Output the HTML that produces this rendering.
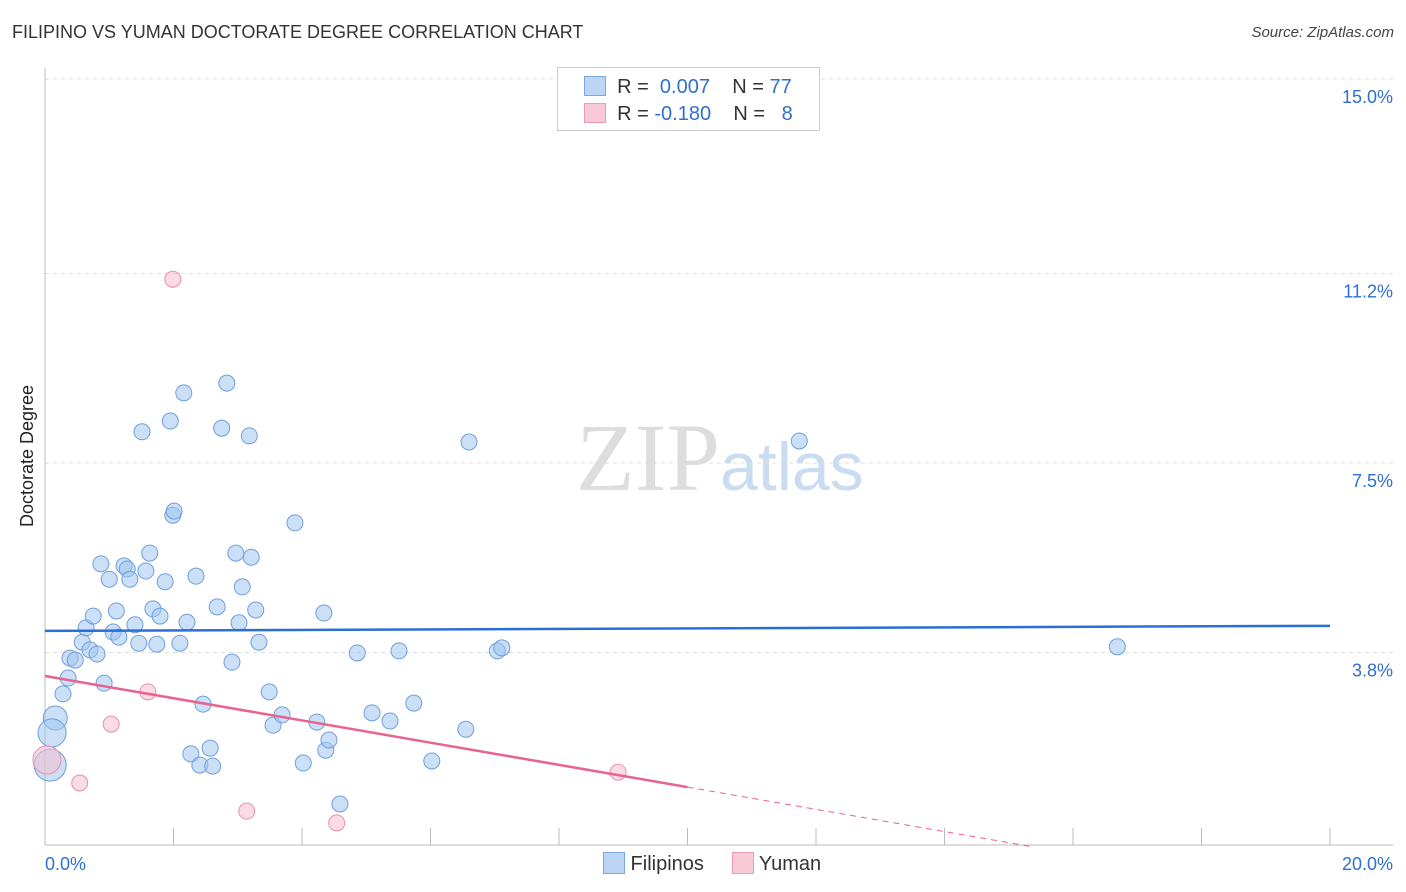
<!DOCTYPE html>
<html><head><meta charset="utf-8">
<style>
body{margin:0;width:1406px;height:892px;background:#fff;font-family:"Liberation Sans",sans-serif;overflow:hidden;position:relative}
.t{position:absolute}
</style></head><body>
<div class="t" style="left:12px;top:22px;font-size:18px;color:#333">FILIPINO VS YUMAN DOCTORATE DEGREE CORRELATION CHART</div>
<div class="t" style="right:12px;top:24px;font-size:15px;color:#444;font-style:italic">Source: ZipAtlas.com</div>
<svg id="chart" width="1406" height="892" style="position:absolute;left:0;top:0">
<text x="720" y="490" font-family="Liberation Serif,serif" font-size="96" fill="#ddd" text-anchor="end">ZIP</text>
<text x="720" y="490" font-family="Liberation Sans,sans-serif" font-size="68" fill="#c9dcf2">atlas</text>
<text transform="translate(33,456) rotate(-90)" font-size="18" fill="#222" text-anchor="middle">Doctorate Degree</text>
</svg>
<div class="t" style="left:557px;top:67px;width:261px;height:62px;border:1px solid #ccc;background:#fff;font-size:20px">
<div style="position:absolute;left:26px;top:8px;white-space:pre"><span style="display:inline-block;width:20px;height:18px;background:#bcd5f5;border:1px solid #7aa8e0;vertical-align:-3px"></span>  <span style="color:#333">R = </span><span style="color:#2f6fd0"> 0.007</span><span style="color:#333">    N = </span><span style="color:#2f6fd0">77</span></div>
<div style="position:absolute;left:26px;top:35px;white-space:pre"><span style="display:inline-block;width:20px;height:18px;background:#f9c9d8;border:1px solid #eb9ab3;vertical-align:-3px"></span>  <span style="color:#333">R = </span><span style="color:#2f6fd0">-0.180</span><span style="color:#333">    N = </span><span style="color:#2f6fd0">  8</span></div>
</div>
<div class="t" style="left:603px;top:852px;font-size:20px;color:#333;white-space:pre"><span><span style="display:inline-block;width:20px;height:20px;background:#bcd5f5;border:1px solid #7aa8e0;vertical-align:-4px"></span> Filipinos</span>     <span><span style="display:inline-block;width:20px;height:20px;background:#f9c9d8;border:1px solid #eb9ab3;vertical-align:-4px"></span> Yuman</span></div>
<script>
const blueX=[.16,.11,.08,.28,.39,.36,.47,.58,.64,.70,.75,.81,.87,.92,1.00,1.06,1.11,1.15,1.23,1.28,1.32,1.40,1.46,1.51,1.57,1.63,1.68,1.74,1.79,1.87,1.95,1.99,2.01,2.10,2.16,2.21,2.27,2.35,2.41,2.46,2.57,2.61,2.68,2.75,2.83,2.91,2.97,3.02,3.07,3.18,3.21,3.28,3.33,3.49,3.55,3.69,3.89,4.02,4.23,4.34,4.37,4.42,4.59,4.86,5.09,5.37,5.51,5.74,6.02,6.55,6.60,7.04,7.11,11.74,16.69];
const blueY=[2.52,2.23,1.60,2.99,3.69,3.30,3.65,4.00,4.28,3.85,4.51,3.77,5.53,3.20,5.23,4.20,4.61,4.10,5.49,5.43,5.23,4.34,3.98,8.11,5.39,5.74,4.65,3.96,4.51,5.18,8.32,6.48,6.56,3.98,8.87,4.39,1.82,5.29,1.60,2.79,1.93,1.58,4.69,8.18,9.06,3.61,5.74,4.38,5.08,8.03,5.66,4.63,4.00,3.03,2.38,2.58,6.33,1.64,2.44,4.57,1.89,2.09,0.84,3.79,2.62,2.46,3.83,2.81,1.68,2.30,7.91,3.83,3.89,7.93,3.91];
const blueBig=[12,14,16];
const pinkX=[1.99,1.60,1.03,0.54,3.14,4.54,8.92,0.03];
const pinkY=[11.09,3.03,2.40,1.25,0.70,0.47,1.46,1.70];
const yTicks=[15.0,11.2,7.5,3.8];
const yTickLabels=["15.0%","11.2%","7.5%","3.8%"];
const blueTrend=[4.22,4.32];
const pinkTrend=[3.34,-0.217];
const sx=v=>45+v*64.25, sy=v=>847-v*51.2;
const svg=document.getElementById('chart');const NS='http://www.w3.org/2000/svg';
function mk(t,a){const e=document.createElementNS(NS,t);for(const k in a)e.setAttribute(k,a[k]);svg.appendChild(e);return e;}
yTicks.forEach((v,i)=>{const g=mk('line',{x1:45,x2:1393,y1:sy(v),y2:sy(v),stroke:'#ddd','stroke-dasharray':'4,4'});


const t=mk('text',{x:1393,y:sy(v)+24,'text-anchor':'end','font-size':18,fill:'#2f6fd0'});t.textContent=yTickLabels[i];

});
const ax=mk('line',{x1:45,x2:45,y1:68,y2:845,stroke:'#bbb'});


const bx=mk('line',{x1:45,x2:1393,y1:845,y2:845,stroke:'#bbb'});


for(let v=0;v<=20;v+=2){const l=mk('line',{x1:sx(v),x2:sx(v),y1:828,y2:845,stroke:'#bbb'});

}
[[0,'0.0%','start',45],[20,'20.0%','end',1393]].forEach(a=>{const t=mk('text',{x:a[3],y:870,'text-anchor':a[2],'font-size':18,fill:'#2f6fd0'});t.textContent=a[1];

});
blueX.forEach((x,i)=>{const c=mk('circle',{cx:sx(x),cy:sy(blueY[i]),r:blueBig[i]||8,fill:'rgba(160,196,240,0.55)',stroke:'#6f9fdc','stroke-width':1});

});
pinkX.forEach((x,i)=>{const c=mk('circle',{cx:sx(x),cy:sy(pinkY[i]),r:i==7?14:8,fill:'rgba(248,190,210,0.55)',stroke:'#e890ac','stroke-width':1});

});
const bl=mk('line',{x1:sx(0),y1:sy(blueTrend[0]),x2:sx(20),y2:sy(blueTrend[1]),stroke:'#2a6fd6','stroke-width':2.5});


const pe=-pinkTrend[0]/pinkTrend[1];
const pl=mk('line',{x1:sx(0),y1:sy(pinkTrend[0]),x2:sx(10),y2:sy(pinkTrend[0]+pinkTrend[1]*10),stroke:'#e8648f','stroke-width':2.5});


const pd=mk('line',{x1:sx(10),y1:sy(pinkTrend[0]+pinkTrend[1]*10),x2:sx(pe),y2:sy(0),stroke:'#e8648f','stroke-width':1,'stroke-dasharray':'6,5'});


</script>
</body></html>
